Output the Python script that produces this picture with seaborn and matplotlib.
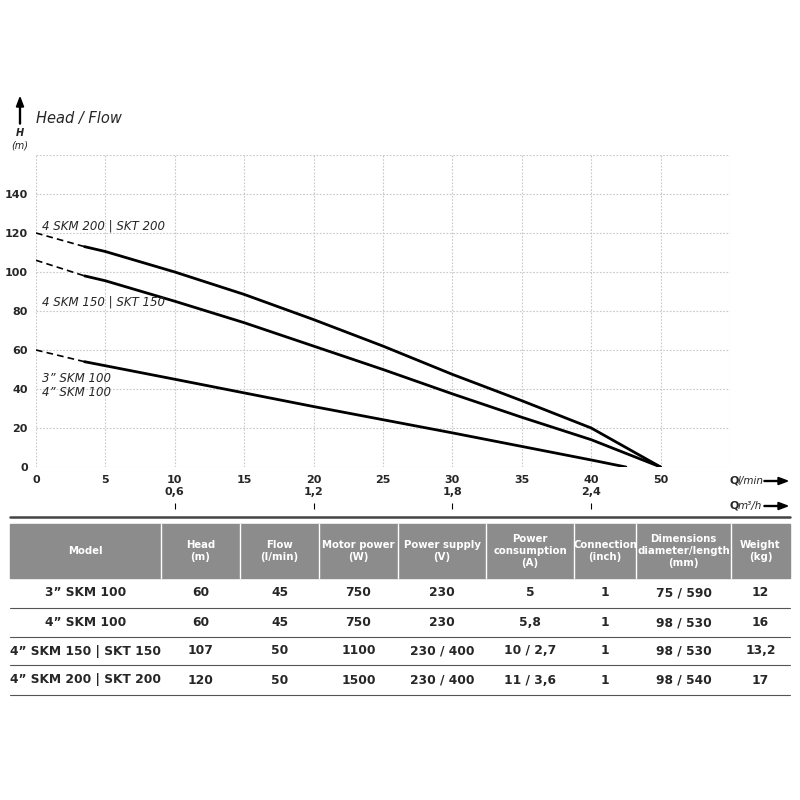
import numpy as np
import pandas as pd
import matplotlib
matplotlib.use("Agg")
import matplotlib.pyplot as plt
import seaborn as sns

sns.set_theme(style="white")
plt.rcParams['font.family'] = ['DejaVu Sans']

# ---- data ----
q_200 = [0, 3.5, 5, 10, 15, 20, 25, 30, 35, 40, 45, 50]
h_200 = [120, 113, 110.5, 100, 88.5, 75.6, 62, 47.5, 34, 20, 10, 0]
q_150 = [0, 3.5, 5, 10, 15, 20, 25, 30, 35, 40, 45, 50]
h_150 = [106, 98, 95.5, 85, 74, 62, 50, 37.5, 25.5, 14, 7, 0]
q_100 = [0, 3.5, 10, 20, 30, 40, 45]
h_100 = [60, 54, 45, 31, 17.5, 3.6, 0]
x_ticks = [0, 5, 10, 15, 20, 25, 30, 35, 40, 50]
y_ticks = [0, 20, 40, 60, 80, 100, 120, 140]
m3h_ticks = [0.6, 1.2, 1.8, 2.4]
m3h_labels = ["0,6", "1,2", "1,8", "2,4"]

columns = ["Model", "Head\n(m)", "Flow\n(l/min)", "Motor power\n(W)", "Power supply\n(V)",
           "Power\nconsumption\n(A)", "Connection\n(inch)", "Dimensions\ndiameter/length\n(mm)", "Weight\n(kg)"]
rows = [
    ["3\u201d SKM 100", "60", "45", "750", "230", "5", "1", "75 / 590", "12"],
    ["4\u201d SKM 100", "60", "45", "750", "230", "5,8", "1", "98 / 530", "16"],
    ["4\u201d SKM 150 | SKT 150", "107", "50", "1100", "230 / 400", "10 / 2,7", "1", "98 / 530", "13,2"],
    ["4\u201d SKM 200 | SKT 200", "120", "50", "1500", "230 / 400", "11 / 3,6", "1", "98 / 540", "17"],
]

def fwd(q):
    q = np.asarray(q, dtype=float)
    return np.where(q <= 40, q / 5.0, 8 + (q - 40) / 10.0)

def inv(p):
    p = np.asarray(p, dtype=float)
    return np.where(p <= 8, p * 5.0, 40 + (p - 8) * 10.0)

W = 800
fig = plt.figure(figsize=(8, 8), dpi=100)
ax = fig.add_axes([36/W, 1-467/W, (730-36)/W, (467-155)/W])
ax.set_xscale('function', functions=(fwd, inv))
ax.set_xlim(0, 60)
ax.set_ylim(0, 160)

def curve(q, h):
    d = pd.DataFrame({"q": q[1:], "h": h[1:]})
    sns.lineplot(data=d, x="q", y="h", ax=ax, color="black", lw=2.0, sort=False)
    ax.plot(q[:2], h[:2], color="black", lw=1.2, ls=(0, (4, 2.5)))

curve(q_200, h_200)
curve(q_150, h_150)
curve(q_100, h_100)

ax.set_xticks(x_ticks + [60])
ax.set_xticklabels([str(t) for t in x_ticks] + [""], fontweight="bold", fontsize=8)
ax.set_yticks(y_ticks + [160])
ax.set_yticklabels([str(t) for t in y_ticks] + [""], fontweight="bold", fontsize=8)
ax.tick_params(length=0, pad=6)
ax.grid(True, color="#c8c8c8", ls=(0, (1.5, 1.5)), lw=0.8)
for s in ax.spines.values():
    s.set_visible(False)
ax.set_xlabel("")
ax.set_ylabel("")

ax2 = ax.twiny()
ax2.set_xscale('function', functions=(fwd, inv))
ax2.set_xlim(ax.get_xlim())
ax2.xaxis.set_ticks_position("bottom")
ax2.spines["bottom"].set_position(("axes", -0.135))
for s in ax2.spines.values():
    s.set_visible(False)
ax2.set_xticks([m / 0.06 for m in m3h_ticks])
ax2.set_xticklabels(m3h_labels, fontweight="bold", fontsize=8)
ax2.tick_params(axis="x", length=4, width=0.8, direction="in", pad=-16, color="black")
ax2.xaxis.set_tick_params(labelbottom=True, labeltop=False)

# labels
it = dict(style="italic", fontsize=8.5)
fig.text(42/W, 1-226/W, "4 SKM 200 | SKT 200", **it, va="center")
fig.text(42/W, 1-302/W, "4 SKM 150 | SKT 150", **it, va="center")
fig.text(42/W, 1-379/W, "3\u201d SKM 100", **it, va="center")
fig.text(42/W, 1-393/W, "4\u201d SKM 100", **it, va="center")
fig.text(36/W, 1-118/W, "Head / Flow", style="italic", fontsize=10.5, va="center")
fig.text(20/W, 1-133/W, "H", style="italic", fontweight="bold", fontsize=7, ha="center", va="center")
fig.text(20/W, 1-145/W, "(m)", style="italic", fontsize=7, ha="center", va="center")
fig.add_artist(matplotlib.patches.FancyArrow(20/W, 1-124/W, 0, 17/W, width=0.0012, head_width=0.009,
                                             head_length=0.012, color="black", transform=fig.transFigure))
fig.text(729/W, 1-481/W, "Q", fontweight="bold", fontsize=8, va="center")
fig.text(738/W, 1-481/W, "l/min", style="italic", fontsize=7.5, va="center")
fig.text(729/W, 1-506/W, "Q", fontweight="bold", fontsize=8, va="center")
fig.text(738/W, 1-506/W, "m\u00b3/h", style="italic", fontsize=7.5, va="center")
for yy in (481, 506):
    fig.add_artist(matplotlib.patches.FancyArrow(764/W, 1-yy/W, 14/W, 0, width=0.0012, head_width=0.009,
                                                 head_length=0.012, color="black", transform=fig.transFigure))

# table
tab = fig.add_axes([0, 0, 1, 1], zorder=-1)
tab.set_xlim(0, W); tab.set_ylim(W, 0); tab.axis("off")
tab.plot([10, 790], [517, 517], color="#444444", lw=1.8)
bounds = [10, 161, 240, 319, 398, 486, 574, 636, 731, 790]
tab.add_patch(matplotlib.patches.Rectangle((10, 524), 780, 54, color="#8c8c8c"))
for b in bounds[1:-1]:
    tab.plot([b, b], [524, 578], color="white", lw=1)
for i, c in enumerate(columns):
    tab.text((bounds[i]+bounds[i+1])/2, 551, c, color="white", ha="center", va="center",
             fontsize=7.3, linespacing=1.3, fontweight="bold")
row_lines = [578, 608, 637, 665, 695]
for k, r in enumerate(rows):
    yc = (row_lines[k] + row_lines[k+1]) / 2
    for i, v in enumerate(r):
        tab.text((bounds[i]+bounds[i+1])/2, yc, v, ha="center", va="center", fontsize=8.8, fontweight="bold")
    tab.plot([10, 790], [row_lines[k+1], row_lines[k+1]], color="#555555", lw=0.8)

fig.savefig("out.png", dpi=100)
